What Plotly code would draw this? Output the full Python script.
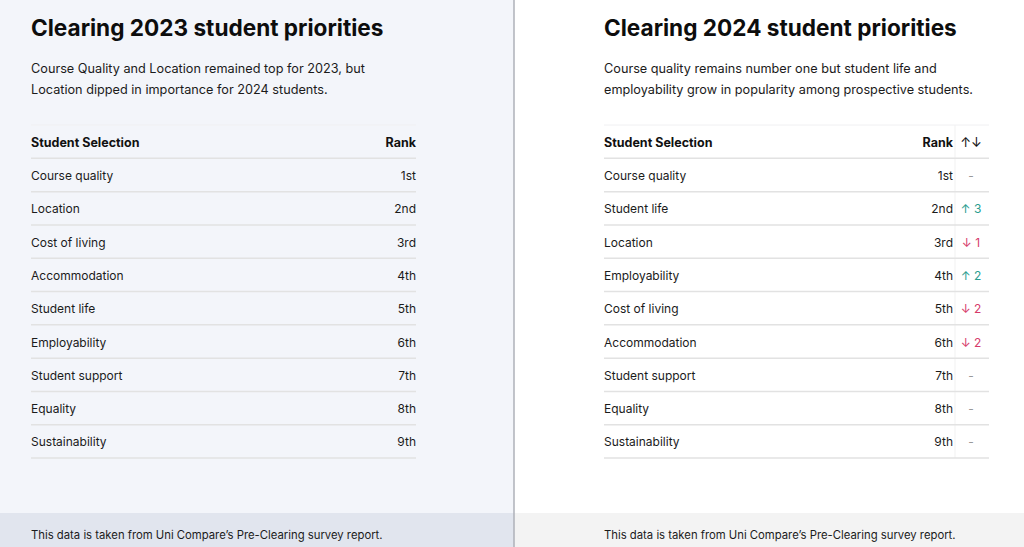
import plotly.graph_objects as go

# data
rows_2023 = ["Course quality", "Location", "Cost of living", "Accommodation", "Student life",
             "Employability", "Student support", "Equality", "Sustainability"]
rows_2024 = ["Course quality", "Student life", "Location", "Employability", "Cost of living",
             "Accommodation", "Student support", "Equality", "Sustainability"]
rank_labels = ["1st", "2nd", "3rd", "4th", "5th", "6th", "7th", "8th", "9th"]
moves_2024 = [0, 3, -1, 2, -2, -2, 0, 0, 0]

titles = ["Clearing 2023 student priorities", "Clearing 2024 student priorities"]
subtitles = [
    ["Course Quality and Location remained top for 2023, but",
     "Location dipped in importance for 2024 students."],
    ["Course quality remains number one but student life and",
     "employability grow in popularity among prospective students."],
]
footer = "This data is taken from Uni Compare\u2019s Pre-Clearing survey report."

W, H = 1024, 547
FONT = "Inter"
TXT = "#1b1b1b"
UP = "#2a9d8f"
DOWN = "#d63a6a"

# layout in pixels
left_x0, left_x1 = 31, 416
right_x0, right_x1, move_x = 604, 953, 971
right_end = 989
row0_px, pitch = 177, 33.3
line_off = 0.56  # separator sits a bit above the half-row point

n = len(rank_labels)
idx = list(range(n))

fig = go.Figure()

# panel backgrounds
fig.add_shape(type="rect", xref="paper", yref="paper", x0=0, x1=514 / W, y0=0, y1=1,
              fillcolor="#f3f5fa", line_width=0, layer="below")
fig.add_shape(type="rect", xref="paper", yref="paper", x0=0, x1=514 / W, y0=0, y1=34 / H,
              fillcolor="#e1e5ee", line_width=0, layer="below")
fig.add_shape(type="rect", xref="paper", yref="paper", x0=514 / W, x1=1, y0=0, y1=34 / H,
              fillcolor="#f3f3f3", line_width=0, layer="below")
fig.add_shape(type="line", xref="paper", yref="paper", x0=514 / W, x1=514 / W, y0=0, y1=1,
              line=dict(color="#aeb0b8", width=1.5))

# row separators
for x0, x1 in [(left_x0, left_x1), (right_x0, right_end)]:
    for i in range(-1, n):
        fig.add_shape(type="line", xref="x", yref="y", x0=x0, x1=x1,
                      y0=i + 1 - line_off, y1=i + 1 - line_off,
                      line=dict(color="#e2e2e2", width=1.5))
    fig.add_shape(type="line", xref="x", yref="y", x0=x0, x1=x1, y0=-1 - line_off, y1=-1 - line_off,
                  line=dict(color="#f0f0f2", width=1))
# faint column divider for movement column
fig.add_shape(type="line", xref="x", yref="y", x0=955, x1=955, y0=-1 - line_off, y1=n - line_off,
              line=dict(color="#f1f1f1", width=1), layer="below")

body = dict(family=FONT, size=12, color=TXT)
bold = dict(family=FONT, size=12.5, color="#111111", weight=700)

def text_trace(x, y, text, pos, font):
    fig.add_trace(go.Scatter(x=x, y=y, text=text, mode="text", textposition=pos,
                             textfont=font, hoverinfo="skip", showlegend=False))

# headers
text_trace([left_x0, right_x0], [-1, -1], ["Student Selection"] * 2, "middle right", bold)
text_trace([left_x1, right_x1], [-1, -1], ["Rank"] * 2, "middle left", bold)
text_trace([move_x], [-1], ["\u2191\u2193"], "middle center", dict(family=FONT, size=13, color="#111111"))

# 2023 table
text_trace([left_x0] * n, idx, rows_2023, "middle right", body)
text_trace([left_x1] * n, idx, rank_labels, "middle left", body)

# 2024 table
text_trace([right_x0] * n, idx, rows_2024, "middle right", body)
text_trace([right_x1] * n, idx, rank_labels, "middle left", body)
move_text = [("\u2191 %d" % m) if m > 0 else ("\u2193 %d" % -m) if m < 0 else "-" for m in moves_2024]
move_col = [UP if m > 0 else DOWN if m < 0 else "#999999" for m in moves_2024]
text_trace([move_x] * n, idx, move_text, "middle center",
           dict(family=FONT, size=12, color=move_col))

# titles, subtitles, footers
for k, x in enumerate([left_x0 - 2, right_x0 - 2]):
    fig.add_annotation(x=x / W, y=1 - 27 / H, xref="paper", yref="paper", xanchor="left",
                       yanchor="middle", showarrow=False, text="<b>" + titles[k] + "</b>",
                       font=dict(family=FONT, size=22.6, color="#0d0d0d"))
    for j, line in enumerate(subtitles[k]):
        fig.add_annotation(x=x / W, y=1 - (68 + 22 * j) / H, xref="paper", yref="paper",
                           xanchor="left", yanchor="middle", showarrow=False, text=line,
                           font=dict(family=FONT, size=12.7, color=TXT))
    fig.add_annotation(x=x / W, y=1 - 535 / H, xref="paper", yref="paper", xanchor="left",
                       yanchor="middle", showarrow=False, text=footer,
                       font=dict(family=FONT, size=11.3, color=TXT))

fig.update_layout(
    width=W, height=H, margin=dict(l=0, r=0, t=0, b=0),
    paper_bgcolor="white", plot_bgcolor="rgba(0,0,0,0)",
    xaxis=dict(range=[0, W], visible=False, fixedrange=True),
    yaxis=dict(range=[(H - row0_px) / pitch, -row0_px / pitch], visible=False, fixedrange=True),
)

fig.write_html("out.html", config={"displayModeBar": False},
               post_script="document.body.style.margin='0';document.body.style.overflow='hidden';")
